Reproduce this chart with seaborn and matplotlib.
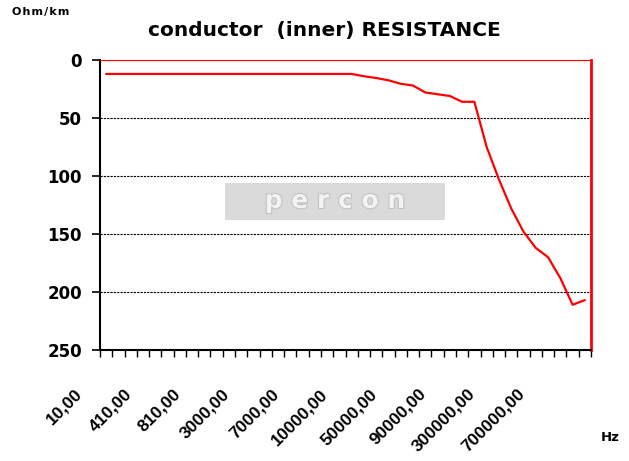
import matplotlib.pyplot as plt
import matplotlib.transforms as mtransforms
import matplotlib.patheffects as pe
import matplotlib.patches as mpatches
import numpy as np
import pandas as pd
import seaborn as sns

# frequency categories (Hz), only every 4th one is labelled on the chart
freq_labels = ['10,00', '110,00', '210,00', '310,00', '410,00', '510,00', '610,00', '710,00',
               '810,00', '910,00', '1000,00', '2000,00', '3000,00', '4000,00', '5000,00', '6000,00',
               '7000,00', '8000,00', '9000,00', '9500,00', '10000,00', '20000,00', '30000,00', '40000,00',
               '50000,00', '60000,00', '70000,00', '80000,00', '90000,00', '100000,00', '200000,00', '250000,00',
               '300000,00', '400000,00', '500000,00', '600000,00', '700000,00', '800000,00', '900000,00', '1000000,00']
# conductor resistance (Ohm/km)
resistance = [12, 12, 12, 12, 12, 12, 12, 12, 12, 12,
              12, 12, 12, 12, 12, 12, 12, 12, 12, 12,
              12, 14, 15.5, 17.5, 20.5, 22, 28, 29.5, 31, 36,
              36, 75, 103, 128, 148, 162, 170, 188, 211, 207]
shown_ticks = list(range(0, 40, 4))
shown_labels = [freq_labels[i] for i in shown_ticks]
y_ticks = [0, 50, 100, 150, 200, 250]

sns.set_style('white')
plt.rcParams['font.family'] = ['DejaVu Sans']
plt.rcParams.update({'text.color': 'black', 'xtick.color': 'black',
                     'ytick.color': 'black', 'axes.labelcolor': 'black'})

fig = plt.figure(figsize=(6.29, 4.61), dpi=100)
ax = fig.add_axes([0.159, 0.2408, 0.7806, 0.629])

df = pd.DataFrame({'freq': freq_labels, 'ohm': resistance})
sns.lineplot(data=df, x='freq', y='ohm', sort=False, color='red', linewidth=1.6, ax=ax)

ax.set_xlim(-0.5, len(freq_labels) - 0.5)
ax.set_ylim(250, 0)
ax.set_yticks(y_ticks)
ax.set_xticks(shown_ticks)
ax.set_xticklabels(shown_labels, rotation=45, ha='right', va='top',
                   fontweight='bold', fontsize=12.5, family='Liberation Sans')
ax.set_xticks(np.arange(-0.5, len(freq_labels), 1), minor=True)
ax.tick_params(axis='x', which='major', bottom=True, length=0, pad=26)
ax.tick_params(axis='x', which='minor', bottom=True, length=5, width=1,
               color='black', direction='out')
ax.tick_params(axis='y', left=True, length=6, width=1.2, color='black', direction='out',
               pad=7, labelsize=12)
for lab in ax.get_yticklabels():
    lab.set_fontweight('bold')

# shift the rotated labels left like the original
shift = mtransforms.ScaledTranslation(-0.21, 0, fig.dpi_scale_trans)
for lab in ax.get_xticklabels():
    lab.set_transform(lab.get_transform() + shift)

ax.yaxis.grid(True, linestyle=(0, (2, 1)), color='black', linewidth=0.8)
ax.xaxis.grid(False)
ax.set_axisbelow(True)

ax.spines['left'].set_color('black')
ax.spines['left'].set_linewidth(1.5)
ax.spines['bottom'].set_color('black')
ax.spines['bottom'].set_linewidth(1.5)
ax.spines['top'].set_color('red')
ax.spines['top'].set_linewidth(0.8)
ax.spines['right'].set_color('red')
ax.spines['right'].set_linewidth(2)

ax.set_xlabel('')
ax.set_ylabel('')

# watermark logo
ax.add_patch(mpatches.Rectangle((0.255, 0.448), 0.448, 0.128, transform=ax.transAxes,
                                facecolor='#dadada', edgecolor='none', zorder=0))
ax.text(0.479, 0.514, 'p e r c o n', transform=ax.transAxes, ha='center', va='center',
        fontsize=18, fontweight='bold', color='#f3f3f3', zorder=0.5,
        path_effects=[pe.withStroke(linewidth=1.5, foreground='#c0c0c0')])

fig.text(0.515, 0.933, 'conductor  (inner) RESISTANCE', ha='center', va='center',
         fontsize=14.5, fontweight='bold')
fig.text(0.019, 0.974, 'O\u200ah\u200am\u200a/\u200ak\u200am', ha='left', va='center',
         fontsize=8, fontweight='bold')
fig.text(0.97, 0.052, 'Hz', ha='center', va='center', fontsize=9.5, fontweight='bold')

fig.savefig('out.png', dpi=100)
